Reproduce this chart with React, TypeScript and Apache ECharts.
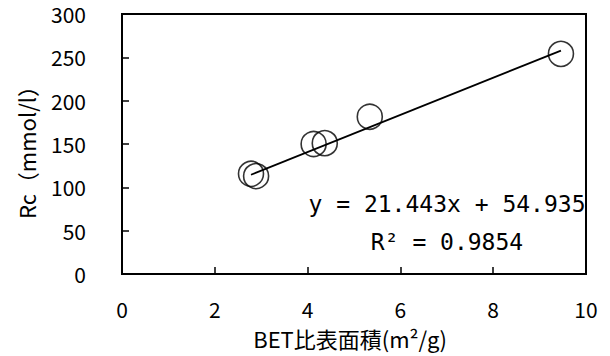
import React, { useEffect, useRef } from "react";
import * as echarts from "echarts";

// BET specific surface area (m²/g) against Rc (mmol/l)
const surfaceArea = [2.78, 2.89, 4.13, 4.37, 5.34, 9.46];
const rcValues = [115.6, 113, 150, 151, 181.5, 254];

// Linear fit reported on the chart
const slope = 21.443;
const intercept = 54.935;
const rSquared = 0.9854;

const xTicks = { min: 0, max: 10, interval: 2 };
const yTicks = { min: 0, max: 300, interval: 50 };

const FONT = "'Noto Sans CJK JP', 'Noto Sans', sans-serif";
const MONO = "'DejaVu Sans Mono', 'Liberation Mono', monospace";

export default function App() {
  const ref = useRef<HTMLDivElement>(null);

  useEffect(() => {
    if (!ref.current) return;
    const chart = echarts.init(ref.current, null, { renderer: "svg" });

    const points = surfaceArea.map((x, i) => [x, rcValues[i]]);
    const xLo = Math.min(...surfaceArea);
    const xHi = Math.max(...surfaceArea);
    const fitLine = [
      [xLo, slope * xLo + intercept],
      [xHi, slope * xHi + intercept],
    ];

    chart.setOption({
      animation: false,
      backgroundColor: "#fff",
      grid: {
        left: 122,
        top: 14,
        right: 24,
        bottom: 82,
        show: true,
        borderColor: "#000",
        borderWidth: 2,
      },
      xAxis: {
        type: "value",
        min: xTicks.min,
        max: xTicks.max,
        interval: xTicks.interval,
        axisLine: { show: true, lineStyle: { color: "#000", width: 2 } },
        axisTick: { show: true, inside: true, length: 7, lineStyle: { color: "#000", width: 1.5 } },
        axisLabel: { color: "#000", fontFamily: FONT, fontSize: 21, margin: 24, lineHeight: 22 },
        splitLine: { show: false },
      },
      yAxis: {
        type: "value",
        min: yTicks.min,
        max: yTicks.max,
        interval: yTicks.interval,
        axisLine: { show: true, lineStyle: { color: "#000", width: 2 } },
        axisTick: { show: true, inside: true, length: 7, lineStyle: { color: "#000", width: 1.5 } },
        axisLabel: { color: "#000", fontFamily: FONT, fontSize: 21, margin: 36 },
        splitLine: { show: false },
      },
      series: [
        {
          type: "line",
          data: fitLine,
          showSymbol: false,
          symbol: "none",
          lineStyle: { color: "#000", width: 1.8 },
          z: 2,
        },
        {
          type: "scatter",
          data: points,
          symbol: "circle",
          symbolSize: 25,
          itemStyle: { color: "transparent", borderColor: "#000", borderWidth: 1.6 },
          z: 3,
        },
      ],
      graphic: [
        {
          type: "text",
          x: 26,
          y: 147,
          rotation: Math.PI / 2,
          style: {
            text: "Rc（mmol/l）",
            font: `22px ${FONT}`,
            fill: "#000",
            align: "center",
            verticalAlign: "middle",
          },
        },
        {
          type: "text",
          x: 350,
          y: 338,
          style: {
            text: "BET比表面積(m²/g)",
            font: `22px ${FONT}`,
            fill: "#000",
            align: "center",
            verticalAlign: "middle",
          },
        },
        {
          type: "text",
          x: 447,
          y: 204,
          style: {
            text: `y = ${slope}x + ${intercept}`,
            font: `23px ${MONO}`,
            fill: "#000",
            align: "center",
            verticalAlign: "middle",
          },
        },
        {
          type: "text",
          x: 447,
          y: 242,
          style: {
            text: `R² = ${rSquared}`,
            font: `23px ${MONO}`,
            fill: "#000",
            align: "center",
            verticalAlign: "middle",
          },
        },
      ],
    });

    return () => chart.dispose();
  }, []);

  return (
    <div
      ref={ref}
      style={{ position: "fixed", left: 0, top: 0, width: 610, height: 356 }}
    />
  );
}
